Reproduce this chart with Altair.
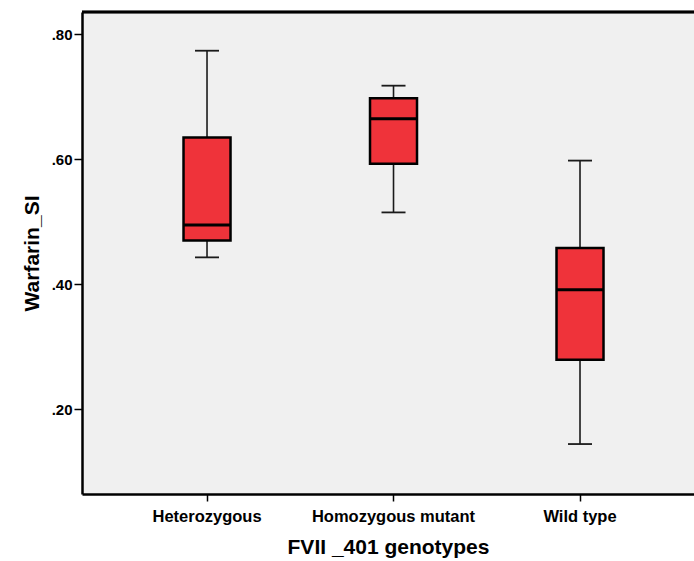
import altair as alt
import pandas as pd

genotypes = ["Heterozygous", "Homozygous mutant", "Wild type"]
whisker_low = [0.443, 0.515, 0.144]
q1 = [0.470, 0.593, 0.279]
median = [0.495, 0.665, 0.391]
q3 = [0.635, 0.698, 0.458]
whisker_high = [0.774, 0.718, 0.598]
y_ticks = [0.2, 0.4, 0.6, 0.8]

df = pd.DataFrame({
    "genotype": genotypes,
    "lo": whisker_low,
    "q1": q1,
    "med": median,
    "q3": q3,
    "hi": whisker_high,
})

W, H = 612, 482
FONT = "Liberation Sans"

xscale = alt.Scale(paddingInner=0, paddingOuter=0.1408, align=0.605)
yscale = alt.Scale(domain=[0.064, 0.836], nice=False, zero=False)

xenc = alt.X(
    "genotype:N", scale=xscale, sort=genotypes,
    axis=alt.Axis(
        title="FVII _401 genotypes", labelAngle=0, labelFont=FONT, labelFontSize=16.5,
        labelFontWeight="bold", labelColor="black", labelPadding=7,
        titleFont=FONT, titleFontSize=21, titleFontWeight="bold", titleColor="black",
        titlePadding=12, domainColor="black", domainWidth=2.5, tickColor="black",
        tickSize=7, tickWidth=1.5,
    ),
)


def yenc(field):
    return alt.Y(
        f"{field}:Q", scale=yscale,
        axis=alt.Axis(
            title="Warfarin_SI", values=y_ticks,
            labelExpr="replace(format(datum.value, '.2f'), '0.', '.')",
            labelFont=FONT, labelFontSize=15, labelFontWeight="bold", labelColor="black",
            labelPadding=2, titleFont=FONT, titleFontSize=21, titleFontWeight="bold",
            titleColor="black", titlePadding=9, domainColor="black", domainWidth=2.5,
            tickColor="black", tickSize=8, tickWidth=1.5, grid=False,
        ),
    )


base = alt.Chart(df)

whiskers = base.mark_rule(color="#1a1a1a", strokeWidth=1.6, opacity=1).encode(
    x=xenc, y=yenc("lo"), y2="hi:Q"
)
cap_lo = base.mark_tick(color="#1a1a1a", size=24, thickness=1.8, opacity=1).encode(
    x=xenc, y=yenc("lo")
)
cap_hi = base.mark_tick(color="#1a1a1a", size=24, thickness=1.8, opacity=1).encode(
    x=xenc, y=yenc("hi")
)
boxes = base.mark_bar(size=47, fill="#EF333A", stroke="black", strokeWidth=2.5, opacity=1).encode(
    x=xenc, y=yenc("q1"), y2="q3:Q"
)
medians = base.mark_tick(color="black", size=46, thickness=3, opacity=1).encode(
    x=xenc, y=yenc("med")
)
top_border = alt.Chart(df).mark_rule(color="black", strokeWidth=2.5).encode(
    y=alt.value(0), x=alt.value(0), x2=alt.value(W)
)

chart = (
    alt.layer(whiskers, cap_lo, cap_hi, boxes, medians, top_border)
    .properties(
        width=W, height=H,
        autosize=alt.AutoSizeParams(type="none"),
        padding={"left": 82, "top": 12, "right": 0, "bottom": 67},
        background="white",
    )
    .configure_view(fill="#F0F0F0", stroke=None)
)

chart.save("out.html", embed_options={"renderer": "svg", "actions": False})
